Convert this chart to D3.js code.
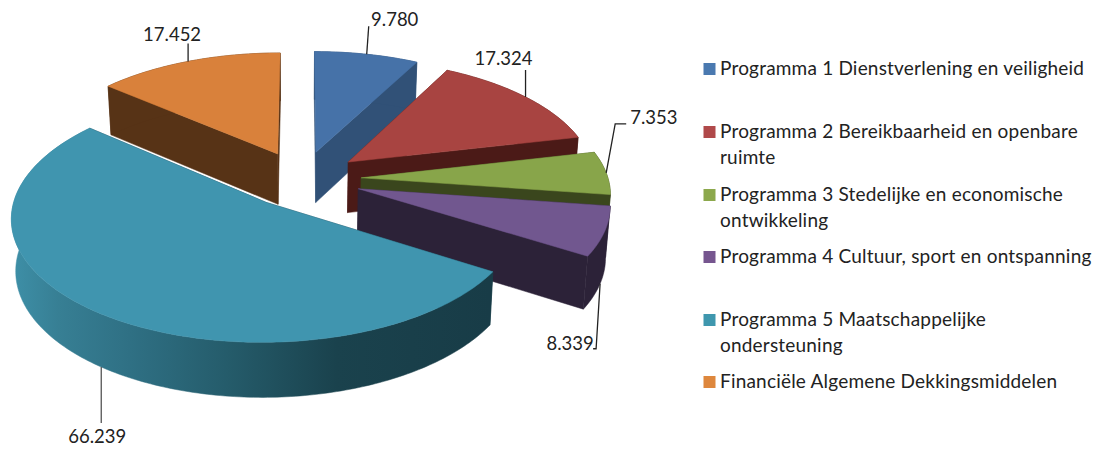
<!DOCTYPE html>
<html>
<head>
<meta charset="utf-8">
<script src="https://cdn.jsdelivr.net/npm/d3@7"></script>
<style>
  html, body { margin: 0; background: #fff; }
  svg { display: block; }
  text { font-family: Lato, "Open Sans", sans-serif; fill: #222; }
</style>
</head>
<body>
<svg id="chart" width="1101" height="450"></svg>
<script>
var categories = ["Programma 1", "Programma 2", "Programma 3", "Programma 4", "Programma 5", "Financiele"];
var values = [9780, 17324, 7353, 8339, 66239, 17452];
var valueLabels = ["9.780", "17.324", "7.353", "8.339", "66.239", "17.452"];
var legendLines = [
    ["Programma 1 Dienstverlening en veiligheid"],
    ["Programma 2 Bereikbaarheid en openbare", "ruimte"],
    ["Programma 3 Stedelijke en economische", "ontwikkeling"],
    ["Programma 4 Cultuur, sport en ontspanning"],
    ["Programma 5 Maatschappelijke", "ondersteuning"],
    ["Financiële Algemene Dekkingsmiddelen"]
];

var topColors = ["#4672a8", "#a84441", "#88a54a", "#71578f", "#4095af", "#d9813b"];
var sideColors = ["#315177", "#4b1a17", "#3a461d", "#2c2238", "#1a414c", "#573316"];
var legendColors = ["#4a79b0", "#b0494a", "#8ca84c", "#76568f", "#3f97ae", "#de873d"];

// pie plane -> screen, rough perspective like the 3D pie in excel
var cx = 302, cy = 179, radius = 247, squash = 118, tilt = 0.115,
    explode = 0.24, depth = 51, bottomShrink = 0.985;

function project(px, py, bottom) {
    var p = 1 / (1 + tilt * py),
        x = px * radius * p,
        y = cy - py * squash * p;
    if (bottom) {
        return [cx + x * bottomShrink, y + depth * (1 + p) / 2];
    }
    return [cx + x, y];
}

function apex(d, bottom) {
    var mid = (d.startAngle + d.endAngle) / 2;
    return project(explode * Math.sin(mid), explode * Math.cos(mid), bottom);
}

function rim(d, a, bottom) {
    var mid = (d.startAngle + d.endAngle) / 2;
    return project(explode * Math.sin(mid) + Math.sin(a), explode * Math.cos(mid) + Math.cos(a), bottom);
}

function rimPoints(d, bottom) {
    var n = Math.ceil((d.endAngle - d.startAngle) * 60);
    return d3.range(n + 1).map(function(i) {
        return rim(d, d.startAngle + (d.endAngle - d.startAngle) * i / n, bottom);
    });
}

var line = d3.line().curve(d3.curveLinearClosed);
var pie = d3.pie().sort(null);
var arcs = pie(values);

var svg = d3.select("#chart");

var grad = svg.append("defs").append("linearGradient")
    .attr("id", "tealWall")
    .attr("gradientUnits", "userSpaceOnUse")
    .attr("x1", 10).attr("x2", 490).attr("y1", 0).attr("y2", 0);
grad.selectAll("stop")
    .data([[0, "#3e90a8"], [0.1, "#377f94"], [0.25, "#2f7084"], [0.45, "#255c6b"], [0.68, "#1a424d"], [1, "#183c47"]])
    .enter().append("stop")
    .attr("offset", function(d) { return d[0]; })
    .attr("stop-color", function(d) { return d[1]; });

// painter order, back slices first
var drawOrder = [0, 5, 1, 2, 3, 4];

var slices = svg.selectAll("g.slice")
    .data(drawOrder.map(function(i) { return arcs[i]; }))
    .enter().append("g")
    .attr("class", "slice");

slices.each(function(d) {
    var g = d3.select(this),
        side = sideColors[d.index],
        wallFill = d.index === 4 ? "url(#tealWall)" : side;

    var faces = [d.startAngle, d.endAngle].map(function(a) {
        return [apex(d, false), rim(d, a, false), rim(d, a, true), apex(d, true)];
    });
    g.selectAll("path.face").data(faces).enter().append("path")
        .attr("class", "face")
        .attr("d", line)
        .attr("fill", side)
        .attr("stroke", side)
        .attr("stroke-width", 0.5);

    var wall = rimPoints(d, false).concat(rimPoints(d, true).reverse());
    g.append("path")
        .attr("d", line(wall))
        .attr("fill", wallFill)
        .attr("stroke", wallFill)
        .attr("stroke-width", 0.5);

    g.append("path")
        .attr("d", line([apex(d, false)].concat(rimPoints(d, false))))
        .attr("fill", topColors[d.index])
        .attr("stroke", topColors[d.index])
        .attr("stroke-width", 0.5);
});

// leaders go from the middle of the rim, labels sit relative to that point
var leaderBends = [
    [[2, -28]],
    [[0, -27]],
    [[9, -49], [20, -49]],
    [[-4, 65], [-7, 65]],
    [[0, 56]],
    [[0, -18]]
];
var labelOffsets = [
    [28, -35],
    [-22, -38],
    [24, -55],
    [-30, 59.5],
    [-4, 69.5],
    [-16, -26.5]
];
var labelAnchors = ["middle", "middle", "start", "middle", "middle", "middle"];
var labelSize = 18.5;

var labels = svg.selectAll("g.label")
    .data(arcs)
    .enter().append("g")
    .attr("class", "label");

labels.each(function(d) {
    var mid = (d.startAngle + d.endAngle) / 2,
        start = rim(d, mid, Math.cos(mid) < 0),
        pts = [start].concat(leaderBends[d.index].map(function(b) {
            return [start[0] + b[0], start[1] + b[1]];
        }));

    d3.select(this).append("path")
        .attr("d", d3.line()(pts))
        .attr("fill", "none")
        .attr("stroke", d.index === 4 ? "#555" : "#222")
        .attr("stroke-width", 1.3);

    d3.select(this).append("text")
        .attr("x", start[0] + labelOffsets[d.index][0])
        .attr("y", start[1] + labelOffsets[d.index][1])
        .attr("dy", "0.35em")
        .attr("text-anchor", labelAnchors[d.index])
        .attr("font-size", labelSize)
        .text(valueLabels[d.index]);
});

// legend
var legendBaselines = [75, 138, 201, 263, 326, 388];
var legendLineGap = 25.5;

var legend = svg.selectAll("g.legend")
    .data(categories)
    .enter().append("g")
    .attr("class", "legend")
    .attr("transform", function(d, i) { return "translate(0," + legendBaselines[i] + ")"; });

legend.append("rect")
    .attr("x", 703.5)
    .attr("y", -12)
    .attr("width", 12)
    .attr("height", 12)
    .attr("fill", function(d, i) { return legendColors[i]; });

legend.each(function(d, i) {
    d3.select(this).selectAll("text")
        .data(legendLines[i])
        .enter().append("text")
        .attr("x", 720)
        .attr("y", function(t, j) { return j * legendLineGap; })
        .attr("font-size", 19)
        .attr("letter-spacing", 0.2)
        .text(function(t) { return t; });
});
</script>
</body>
</html>
